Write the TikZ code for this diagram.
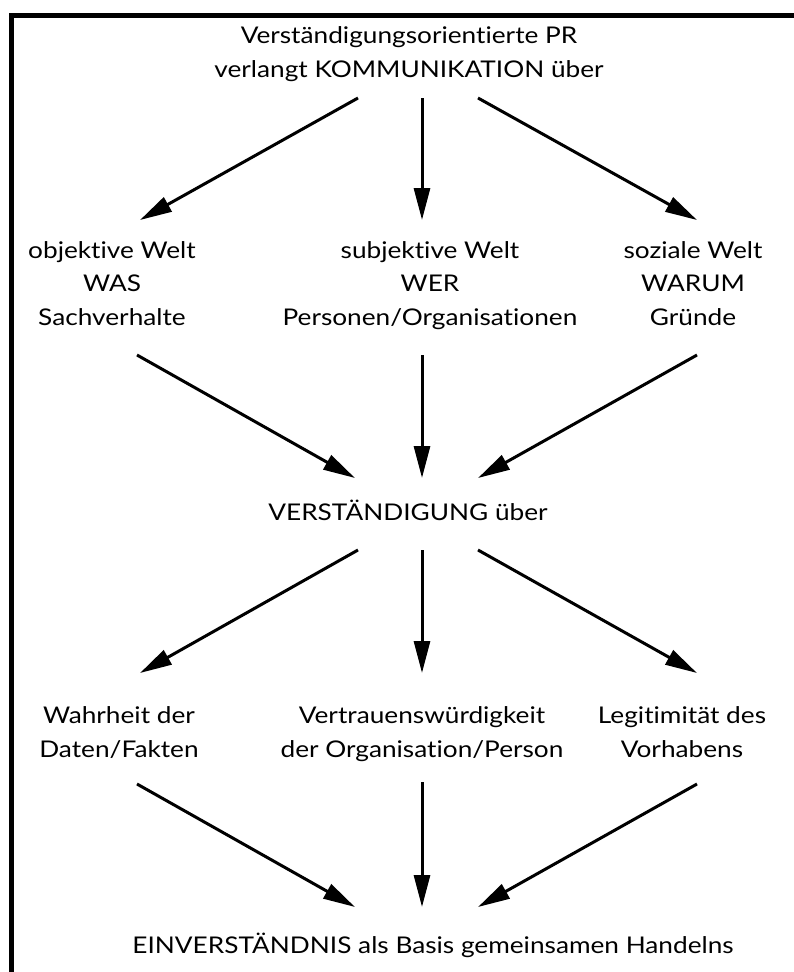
\documentclass[tikz,border=0pt]{standalone}
\usepackage{fontspec}
\setmainfont{Lato}[Ligatures=NoCommon, FakeStretch=1.14]
\usetikzlibrary{arrows.meta}

\begin{document}
\begin{tikzpicture}[x=1pt, y=-1pt,
    every node/.style={align=center, anchor=base, inner sep=0pt,
      font=\fontsize{23}{33.5}\selectfont},
    >={Triangle[length=32pt, width=16pt]}]
  \useasboundingbox (0,0) rectangle (793,972);
  \draw[line width=5pt] (11.5,15.5) rectangle (810,990);

  % base = baseline of the last line
  \node (title) at (409,77) {Verständigungsorientierte PR\\verlangt KOMMUNIKATION über};
  \node (obj)   at (112,325) {objektive Welt\\WAS\\Sachverhalte};
  \node (subj)  at (430,325) {subjektive Welt\\WER\\Personen/Organisationen};
  \node (soz)   at (693,325) {soziale Welt\\WARUM\\Gründe};
  \node (verst) at (408,520) {VERSTÄNDIGUNG über};
  \node (wahr)  at (119,757) {Wahrheit der\\Daten/Fakten};
  \node (vertr) at (422,757) {Vertrauenswürdigkeit\\der Organisation/Person};
  \node (legit) at (682,757) {Legitimität des\\Vorhabens};
  \node (einv)  at (433,953) {EINVERSTÄNDNIS als Basis gemeinsamen Handelns};

  \path[->, line width=3pt] ([xshift=-51pt,yshift=-21pt]title.base) edge ([xshift=28pt,yshift=105pt]obj.base);
  \path[->, line width=3pt] ([xshift=13pt,yshift=-21pt]title.base) edge ([xshift=-8pt,yshift=105pt]subj.base);
  \path[->, line width=3pt] ([xshift=69pt,yshift=-21pt]title.base) edge ([xshift=4pt,yshift=105pt]soz.base);

  \path[->, line width=3pt] ([xshift=25pt,yshift=-30pt]obj.base) edge ([xshift=-53pt,yshift=42pt]verst.base);
  \path[->, line width=3pt] ([xshift=-8pt,yshift=-30pt]subj.base) edge ([xshift=14pt,yshift=42pt]verst.base);
  \path[->, line width=3pt] ([xshift=4pt,yshift=-30pt]soz.base) edge ([xshift=70pt,yshift=42pt]verst.base);

  \path[->, line width=3pt] ([xshift=-50pt,yshift=-30pt]verst.base) edge ([xshift=21pt,yshift=84pt]wahr.base);
  \path[->, line width=3pt] ([xshift=14pt,yshift=-30pt]verst.base) edge ([yshift=84pt]vertr.base);
  \path[->, line width=3pt] ([xshift=70pt,yshift=-30pt]verst.base) edge ([xshift=15pt,yshift=84pt]legit.base);

  \path[->, line width=3pt] ([xshift=18pt,yshift=-27pt]wahr.base) edge ([xshift=-78pt,yshift=46pt]einv.base);
  \path[->, line width=3pt] ([yshift=-25pt]vertr.base) edge ([xshift=-11pt,yshift=46pt]einv.base);
  \path[->, line width=3pt] ([xshift=15pt,yshift=-27pt]legit.base) edge ([xshift=45pt,yshift=46pt]einv.base);
\end{tikzpicture}
\end{document}
